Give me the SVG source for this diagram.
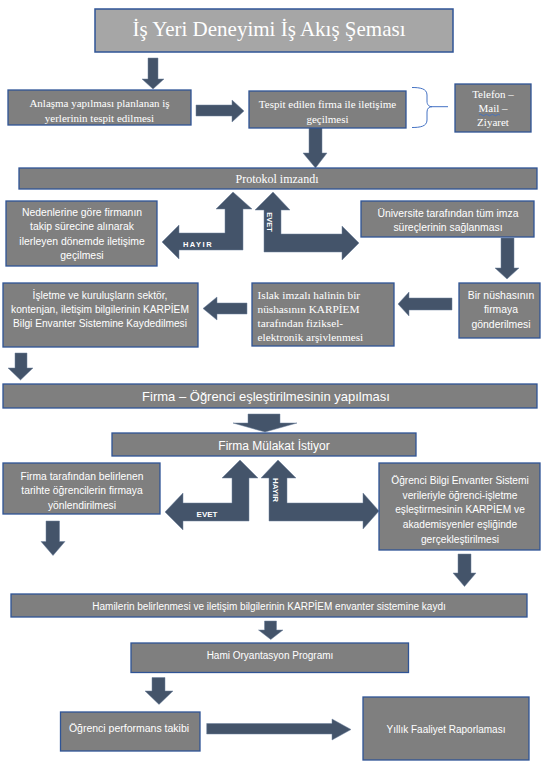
<svg xmlns="http://www.w3.org/2000/svg" width="542" height="762" viewBox="0 0 542 762">
<style>
.box{fill:#7f7f7f;stroke:#2f5496;stroke-width:1.3}
.title{fill:#a6a6a6;stroke:#2f5496;stroke-width:1.5}
.arrow{fill:#44546a;stroke:#6d819f;stroke-width:0.5}
.serif{font-family:"Liberation Serif","Times New Roman",serif;fill:#ffffff}
.sans{font-family:"Liberation Sans",Arial,sans-serif;fill:#ffffff}
.lbl{font-family:"Liberation Sans",Arial,sans-serif;fill:#ffffff;font-weight:bold}
</style>
<rect width="542" height="762" fill="#ffffff"/>

<g id="connectors">
  <polygon class="arrow" points="148,58 158,58 158,79 164,79 153,89 142,79 148,79"/>
  <polygon class="arrow" points="196,105 232,105 232,100 244,111 232,122 232,116 196,116"/>
  <polygon class="arrow" points="309,127 322,127 322,153 327,153 315.5,168 303,153 309,153"/>
  <path d="M412,87.5 C420,87.5 427,88.5 427,95 L427,101 C427,105 429,106.7 432,106.7 L448,106.7 M432,106.7 C429,106.7 427,108.5 427,112 L427,120 C427,126.5 420,127.5 412,127.5" fill="none" stroke="#4472c4" stroke-width="1"/>
  <g id="split1-hayir">
    <polygon class="arrow" points="233,192 252,209 243,209 243,250 179,250 179,259 162,242 179,225 179,233 225,233 225,209 216,209"/>
    <text class="lbl" x="198" y="247" font-size="7.5" letter-spacing="1.5" text-anchor="middle">HAYIR</text>
  </g>
  <g id="split1-evet">
    <polygon class="arrow" points="273,192 290,210 281,210 281,234 342,234 342,226 359,243 342,260 342,252 264,252 264,210 255,210"/>
    <text class="lbl" font-size="7.5" text-anchor="middle" transform="translate(270,222) rotate(90)" y="2.7">EVET</text>
  </g>
  <polygon class="arrow" points="501,238 514,238 514,268 519,268 507,279 495,268 501,268"/>
  <polygon class="arrow" points="452,298 452,310 409,310 409,316 398,304 409,292 409,298"/>
  <polygon class="arrow" points="247,303 247,314 217,314 217,320 203,308.5 217,297 217,303"/>
  <polygon class="arrow" points="15,353 27,353 27,368 33,368 20.5,380 8,368 15,368"/>
  <polygon class="arrow" points="248,414 280,414 280,423 297,423 265,432 233,423 248,423"/>
  <g id="split2-evet">
    <polygon class="arrow" points="240,460 258,478 249,478 249,521 183,521 183,530 165,512 183,493 183,503 232,503 232,478 222,478"/>
    <text class="lbl" x="207" y="517" font-size="8" text-anchor="middle">EVET</text>
  </g>
  <g id="split2-hayir">
    <polygon class="arrow" points="278,460 296,478 287,478 287,503 363,503 363,493 379,511 363,529 363,521 269,521 269,478 261,478"/>
    <text class="lbl" font-size="8" text-anchor="middle" transform="translate(276,490) rotate(90)" y="2.9">HAYIR</text>
  </g>
  <polygon class="arrow" points="46,521 59.5,521 59.5,541.5 65,541.5 53,555.5 41,541.5 46,541.5"/>
  <polygon class="arrow" points="458,554 471,554 471,573 476,573 464.5,586.5 453,573 458,573"/>
  <polygon class="arrow" points="264.5,621 276.5,621 276.5,630 283,630 270.75,639.5 258.5,630 264.5,630"/>
  <polygon class="arrow" points="152,677.5 165,677.5 165,691 173,691 159,704.4 145,691 152,691"/>
  <polygon class="arrow" points="206.7,723.5 332,723.5 332,719 351,729.5 332,740 332,734 206.7,734"/>
</g>

<g id="title">
  <rect class="title" x="95" y="9" width="358" height="43"/>
  <text class="serif" x="269" y="35.5" font-size="21" text-anchor="middle">İş Yeri Deneyimi İş Akış Şeması</text>
</g>

<g id="n-anlasma">
  <rect class="box" x="8" y="90" width="183" height="35"/>
  <text class="serif" font-size="11" text-anchor="middle"><tspan x="99.5" y="106.5">Anlaşma yapılması planlanan iş</tspan><tspan x="99.5" y="121.5">yerlerinin tespit edilmesi</tspan></text>
</g>

<g id="n-tespit">
  <rect class="box" x="249" y="91" width="157" height="37"/>
  <text class="serif" font-size="11" text-anchor="middle"><tspan x="327.5" y="108">Tespit edilen firma ile iletişime</tspan><tspan x="327.5" y="123">geçilmesi</tspan></text>
</g>

<g id="n-telefon">
  <rect class="box" x="455" y="84" width="76" height="48"/>
  <text class="serif" font-size="11" text-anchor="middle"><tspan x="493" y="98">Telefon –</tspan><tspan x="493" y="112">Mail –</tspan><tspan x="493" y="126">Ziyaret</tspan></text>
  <path d="M479,115 q1.5,-1.5 3,0 t3,0 t3,0 t3,0 t3,0 t3,0 t3,0" fill="none" stroke="#4472c4" stroke-width="0.9"/>
</g>

<g id="n-protokol">
  <rect class="box" x="19" y="168" width="518" height="21"/>
  <text class="serif" x="277" y="183" font-size="12" text-anchor="middle">Protokol imzandı</text>
</g>

<g id="n-nedenlerine">
  <rect class="box" x="6" y="201" width="151" height="65"/>
  <text class="sans" font-size="10.4" text-anchor="middle"><tspan x="82" y="215.5">Nedenlerine göre firmanın</tspan><tspan x="82" y="230">takip sürecine alınarak</tspan><tspan x="82" y="244.5">ilerleyen dönemde iletişime</tspan><tspan x="82" y="259">geçilmesi</tspan></text>
</g>

<g id="n-universite">
  <rect class="box" x="361" y="201" width="173" height="36"/>
  <text class="sans" font-size="10.4" text-anchor="middle"><tspan x="448" y="216.5">Üniversite tarafından tüm imza</tspan><tspan x="448" y="230.5">süreçlerinin sağlanması</tspan></text>
</g>

<g id="n-birnusha">
  <rect class="box" x="459" y="283" width="81" height="55"/>
  <text class="sans" font-size="10.4" text-anchor="middle"><tspan x="501" y="298.5">Bir nüshasının</tspan><tspan x="501" y="313">firmaya</tspan><tspan x="501" y="327.5">gönderilmesi</tspan></text>
</g>

<g id="n-islak">
  <rect class="box" x="252" y="283" width="142" height="63"/>
  <text class="serif" font-size="11.3"><tspan x="257.5" y="298.5">Islak imzalı halinin bir</tspan><tspan x="257.5" y="312.5">nüshasının KARPİEM</tspan><tspan x="257.5" y="326.5">tarafından fiziksel-</tspan><tspan x="257.5" y="340.5">elektronik arşivlenmesi</tspan></text>
</g>

<g id="n-isletme">
  <rect class="box" x="3" y="283" width="195" height="64"/>
  <text class="sans" font-size="10.2" text-anchor="middle"><tspan x="100" y="298.5">İşletme ve kuruluşların sektör,</tspan><tspan x="100" y="312.5">kontenjan, iletişim bilgilerinin KARPİEM</tspan><tspan x="100" y="326.5">Bilgi Envanter Sistemine Kaydedilmesi</tspan></text>
</g>

<g id="n-eslestirme">
  <rect class="box" x="3" y="384" width="534" height="24"/>
  <text class="sans" x="266" y="401" font-size="13" text-anchor="middle">Firma – Öğrenci eşleştirilmesinin yapılması</text>
</g>

<g id="n-mulakat">
  <rect class="box" x="112" y="433" width="304" height="23"/>
  <text class="sans" x="274" y="449.5" font-size="12" text-anchor="middle">Firma Mülakat İstiyor</text>
</g>

<g id="n-firmatarafindan">
  <rect class="box" x="3" y="463" width="157" height="51"/>
  <text class="sans" font-size="10.3" text-anchor="middle"><tspan x="82" y="479.5">Firma tarafından belirlenen</tspan><tspan x="82" y="494">tarihte öğrencilerin firmaya</tspan><tspan x="82" y="508.5">yönlendirilmesi</tspan></text>
</g>

<g id="n-ogrencibilgi">
  <rect class="box" x="379" y="463" width="161" height="87"/>
  <text class="sans" font-size="10.2" text-anchor="middle"><tspan x="460" y="483.5">Öğrenci Bilgi Envanter Sistemi</tspan><tspan x="460" y="498.5">verileriyle öğrenci-işletme</tspan><tspan x="460" y="513">eşleştirmesinin KARPİEM ve</tspan><tspan x="460" y="528">akademisyenler eşliğinde</tspan><tspan x="460" y="543">gerçekleştirilmesi</tspan></text>
</g>

<g id="n-hamilerin">
  <rect class="box" x="11" y="594" width="516" height="23"/>
  <text class="sans" x="269" y="609.5" font-size="10" text-anchor="middle">Hamilerin belirlenmesi ve iletişim bilgilerinin KARPİEM envanter sistemine kaydı</text>
</g>

<g id="n-hami">
  <rect class="box" x="131" y="643" width="277.5" height="29.5"/>
  <text class="sans" x="270" y="658.5" font-size="10" text-anchor="middle">Hami Oryantasyon Programı</text>
</g>

<g id="n-performans">
  <rect class="box" x="60.5" y="712" width="139.5" height="39"/>
  <text class="sans" x="129" y="731.5" font-size="10.5" text-anchor="middle">Öğrenci performans takibi</text>
</g>

<g id="n-yillik">
  <rect class="box" x="363" y="697" width="166" height="63"/>
  <text class="sans" x="446" y="732.5" font-size="10" text-anchor="middle">Yıllık Faaliyet Raporlaması</text>
</g>
</svg>
